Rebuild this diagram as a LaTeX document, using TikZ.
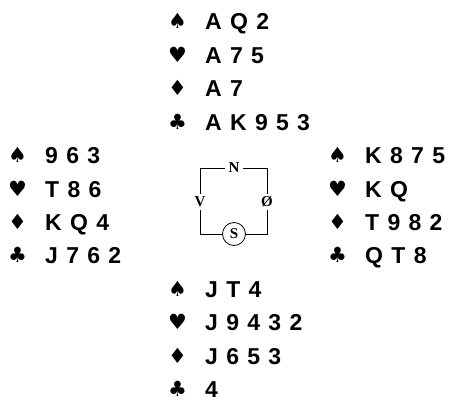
\documentclass[tikz,border=0pt]{standalone}
\usepackage{fontspec}
\newfontfamily\cardfont[WordSpace=1.3]{Liberation Sans Bold}
\newfontfamily\suitfont{DejaVu Sans}
\newfontfamily\compassfont{Liberation Serif Bold}
\usetikzlibrary{positioning}

\tikzset{
	cards/.style={anchor=base west, inner sep=0pt, font=\cardfont\fontsize{23}{23}\selectfont},
	suit/.style={anchor=base west, inner sep=0pt, font=\suitfont\fontsize{21}{21}\selectfont},
	dir/.style={inner sep=3pt, font=\compassfont\fontsize{15}{15}\selectfont},
}

\begin{document}
\begin{tikzpicture}[x=1pt, y=-1pt]
	\useasboundingbox (0,0) rectangle (457,401);
	
	%Norte
	\foreach \st/\cd [count=\rw from 0] in {♠/A Q 2, ♥/A 7 5, ♦/A 7, ♣/A K 9 5 3}{
		\node[suit] (nsuit\rw) at (168,29+33.4*\rw) {\st};
		\node[cards] (ncards\rw) at (205,30+33.4*\rw) {\cd};
	}
	
	%Oeste
	\foreach \st/\cd [count=\rw from 4] in {♠/9 6 3, ♥/T 8 6, ♦/K Q 4, ♣/J 7 6 2}{
		\node[suit] (wsuit\rw) at (8,29+33.4*\rw) {\st};
		\node[cards] (wcards\rw) at (45,30+33.4*\rw) {\cd};
	}
	
	%Este
	\foreach \st/\cd [count=\rw from 4] in {♠/K 8 7 5, ♥/K Q, ♦/T 9 8 2, ♣/Q T 8}{
		\node[suit] (esuit\rw) at (328,29+33.4*\rw) {\st};
		\node[cards] (ecards\rw) at (365,30+33.4*\rw) {\cd};
	}
	
	%Sur
	\foreach \st/\cd [count=\rw from 8] in {♠/J T 4, ♥/J 9 4 3 2, ♦/J 6 5 3, ♣/4}{
		\node[suit] (ssuit\rw) at (168,29+33.4*\rw) {\st};
		\node[cards] (scards\rw) at (205,30+33.4*\rw) {\cd};
	}
	
	%Rosa
	\coordinate (tl) at (200,168);
	\coordinate (tr) at (267,168);
	\coordinate (bl) at (200,234);
	\coordinate (br) at (267,234);
	\node[dir] (N) at (234,168) {N};
	\node[dir] (V) at (200,202) {V};
	\node[dir] (O) at (267,202) {Ø};
	\node[dir, circle, draw, line width=0.8pt, inner sep=1pt, minimum size=23pt] (S) at (234,234) {S};
	\draw[line width=0.8pt] (N.west) -- (tl) -- (V.north);
	\draw[line width=0.8pt] (V.south) -- (bl) -- (S.west);
	\draw[line width=0.8pt] (S.east) -- (br) -- (O.south);
	\draw[line width=0.8pt] (O.north) -- (tr) -- (N.east);
\end{tikzpicture}
\end{document}
